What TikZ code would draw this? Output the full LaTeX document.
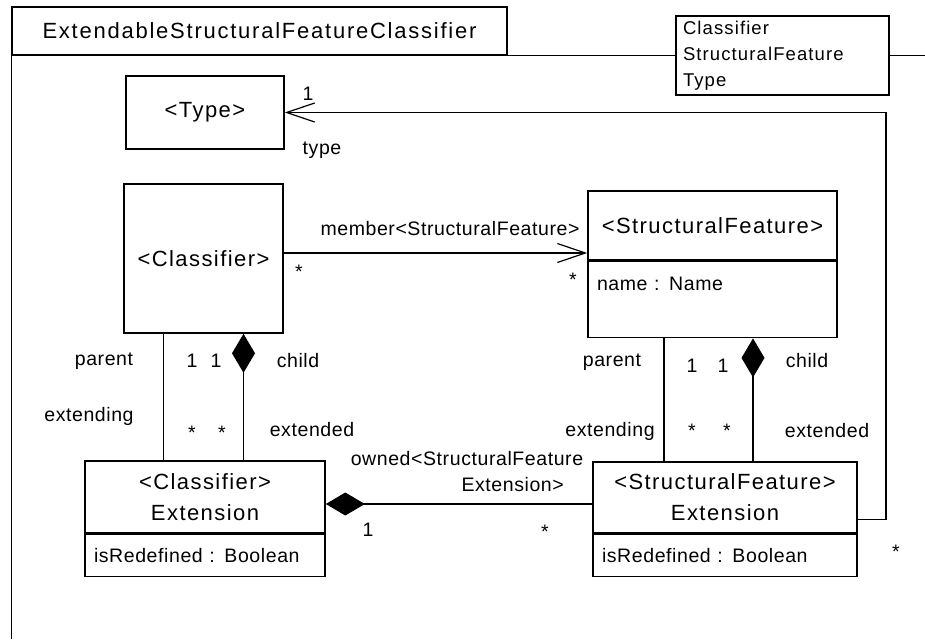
\documentclass[tikz,border=0pt]{standalone}
\usepackage{fontspec}
\setmainfont{Liberation Sans}
\usetikzlibrary{arrows.meta,calc,positioning}
\newcommand{\titlefont}{\fontsize{22}{26}\selectfont\addfontfeature{LetterSpace=8}}
\newcommand{\clsfont}{\fontsize{22}{31}\selectfont\addfontfeature{LetterSpace=6.5}}
\newcommand{\tplfont}{\fontsize{18.5}{26}\selectfont\addfontfeature{LetterSpace=6}}
\newcommand{\lblfont}{\fontsize{19.5}{24}\selectfont\addfontfeature{LetterSpace=3}}
\tikzset{
  frame/.style={line width=1.2pt},
  cls/.style={draw, line width=1.6pt, fill=white, inner sep=0pt, align=center, font=\clsfont},
  attr/.style={draw, line width=1.6pt, fill=white, inner ysep=0pt, inner xsep=9pt, anchor=north, align=left, font=\lblfont},
  lbl/.style={inner sep=0pt, font=\lblfont},
  mult/.style={lbl, anchor=north},
  assoc/.style={line width=1.2pt},
  nav/.style={assoc, -{Straight Barb[length=28pt, width=19pt]}},
  comp/.style={assoc, {Diamond[length=39pt, width=23pt]}-},
}
\begin{document}
\begin{tikzpicture}[x=1pt, y=-1pt]
  \fill[white] (0,0) rectangle (925,639);
  \useasboundingbox (0,0) rectangle (925,639);
  % package frame
  \node[draw, frame, minimum width=495pt, minimum height=48pt, font=\titlefont] (pkg) at (259.5,31) {ExtendableStructuralFeatureClassifier};
  \draw[frame] (pkg.south east) -- (pkg.south east -| 925,0);
  \draw[frame] (pkg.south west) -- (pkg.south west |- 0,639);
  \node[draw, frame, fill=white, text width=199pt, inner xsep=7pt, inner ysep=0pt, minimum height=79pt, align=left, font=\tplfont] (tpl) at (782.5,55.5) {Classifier\\StructuralFeature\\Type};
  % classes
  \node[cls, minimum width=158pt, minimum height=73pt] (type) at (205,112.5) {<Type>};
  \node[cls, minimum width=159pt, minimum height=149pt] (clsf) at (203.5,258.5) {<Classifier>};
  \node[cls, minimum width=249pt, minimum height=69pt] (sf) at (712.5,225.5) {<StructuralFeature>};
  \node[attr, text width=231pt, minimum height=76pt] (sfa) at (sf.south) {name : Name\\ \strut};
  \node[cls, minimum width=240pt, minimum height=72pt] (ce) at (205,497) {<Classifier>\\Extension};
  \node[attr, text width=222pt, minimum height=42pt] (cea) at (ce.south) {isRedefined : Boolean};
  \node[cls, minimum width=264pt, minimum height=71pt] (sfe) at (725,497.5) {<StructuralFeature>\\Extension};
  \node[attr, text width=246pt, minimum height=42pt] (sfea) at (sfe.south) {isRedefined : Boolean};
  % member
  \draw[nav] ([yshift=5.5pt]clsf.east) -- ([yshift=5.5pt]clsf.east -| sf.west);
  \node[lbl] (mrole) at (450,229) {member<StructuralFeature>};
  \node[mult] (mfrom) at (299,265) {*};
  \node[mult] (mto) at (573,273) {*};
  % type
  \coordinate (tyturn) at (886,112.5);
  \draw[nav] ($(sfe.north east)!.5!(sfea.south east)$) -| (tyturn) -- (type.east);
  \node[lbl] (tmult) at (308,94) {1};
  \node[lbl] (trole) at (322,150) {type};
  \node[mult] (tfrom) at (896,545) {*};
  % classifier extension
  \draw[assoc] ([xshift=-40pt]clsf.south) -- ([xshift=-40pt]clsf.south |- ce.north);
  \draw[comp] ([xshift=40pt]clsf.south) -- ([xshift=40pt]clsf.south |- ce.north);
  \node[lbl] (cpar) at (104,361) {parent};
  \node[lbl] (cext) at (89,416) {extending};
  \node[lbl] (cpm) at (192,361) {1};
  \node[lbl] (ccm) at (216,361) {1};
  \node[lbl] (cchi) at (298,361) {child};
  \node[mult] (cem) at (192,426) {*};
  \node[mult] (cdm) at (222,426) {*};
  \node[lbl] (cexd) at (312,430) {extended};
  % structural feature extension
  \draw[assoc] ([xshift=-48.5pt]sfa.south) -- ([xshift=-48.5pt]sfa.south |- sfe.north);
  \draw[comp] ([xshift=40.5pt]sfa.south) -- ([xshift=40.5pt]sfa.south |- sfe.north);
  \node[lbl] (spar) at (612,362) {parent};
  \node[lbl] (sext) at (610,431) {extending};
  \node[lbl] (spm) at (692,366) {1};
  \node[lbl] (scm) at (723,366) {1};
  \node[lbl] (schi) at (807,361) {child};
  \node[mult] (sem) at (692,424) {*};
  \node[mult] (sdm) at (727,424) {*};
  \node[lbl] (sexd) at (827,431) {extended};
  % owned
  \draw[comp] ([yshift=-6.5pt]sfe.west -| ce.east) -- ([yshift=-6.5pt]sfe.west);
  \node[lbl] (orole) at (467,459) {owned<StructuralFeature};
  \node[lbl, anchor=east] (orole2) at (564,485) {Extension>};
  \node[lbl] (omult) at (368,530) {1};
  \node[mult] (ofrom) at (545,525) {*};
\end{tikzpicture}
\end{document}
